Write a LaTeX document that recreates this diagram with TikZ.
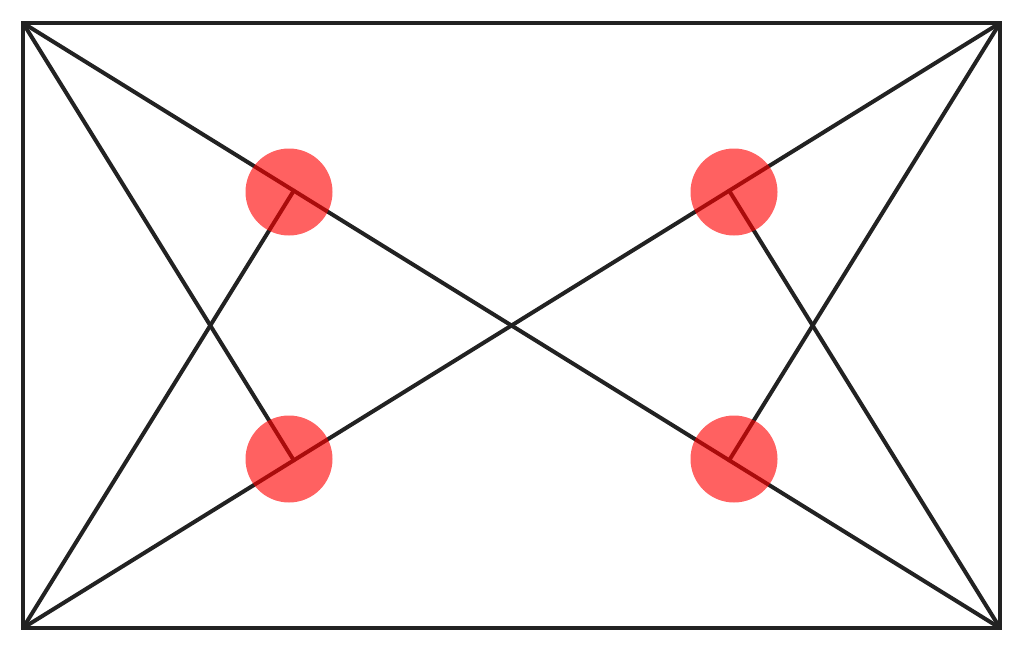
\documentclass[tikz,border=0pt]{standalone}
\usetikzlibrary{calc}
\begin{document}
\begin{tikzpicture}[x=1pt,y=-1pt,
  edge/.style={line width=4pt,draw={rgb,255:red,34;green,34;blue,34},line cap=round,line join=miter},
  dot/.style={circle,fill=red,fill opacity=0.62,minimum size=87pt,inner sep=0pt}]
\useasboundingbox (0,0) rectangle (1024,650);
\coordinate (tl) at (23,23);
\coordinate (tr) at (1000,23);
\coordinate (bl) at (23,628);
\coordinate (br) at (1000,628);
\coordinate (f1) at ($(tl)!(bl)!(br)$);
\coordinate (f2) at ($(bl)!(tl)!(tr)$);
\coordinate (f3) at ($(bl)!(br)!(tr)$);
\coordinate (f4) at ($(tl)!(tr)!(br)$);
\draw[edge,line cap=butt] (tl) rectangle (br);
\draw[edge] (tl) -- (br);
\draw[edge] (bl) -- (tr);
\draw[edge] (bl) -- (f1);
\draw[edge] (tl) -- (f2);
\draw[edge] (br) -- (f3);
\draw[edge] (tr) -- (f4);
\node[dot] (c1) at (289,192) {};
\node[dot] (c2) at (289,459) {};
\node[dot] (c3) at (734,192) {};
\node[dot] (c4) at (734,459) {};
\end{tikzpicture}
\end{document}
